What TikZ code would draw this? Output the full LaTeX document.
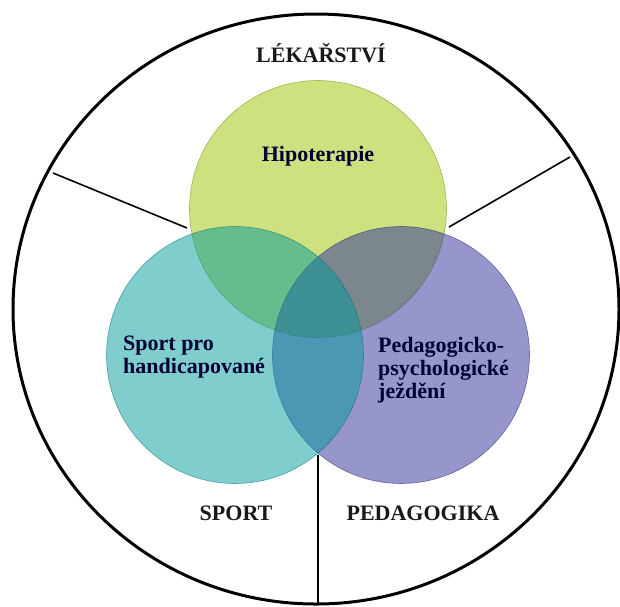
\documentclass[tikz,border=0pt]{standalone}
\usepackage{fontspec}
\setmainfont{Liberation Serif}
\usetikzlibrary{positioning,shapes.geometric}
\definecolor{hipo}{RGB}{155,195,0}
\definecolor{peda}{RGB}{45,45,155}
\definecolor{sport}{RGB}{0,155,155}
\begin{document}
\begin{tikzpicture}[
  x=1pt,y=-1pt,
  field/.style={circle,minimum size=257pt,inner sep=0pt,fill opacity=0.5,draw opacity=0.55,line width=0.6pt},
  area/.style={font=\fontsize{22}{24}\selectfont\bfseries,inner sep=0pt,text=black!90},
  inlabel/.style={font=\fontsize{22}{23}\selectfont\bfseries,inner sep=0pt,align=left,text=black!80!blue},
  divider/.style={line width=1.6pt}
]
\useasboundingbox (0,0) rectangle (620,606);
\node[ellipse,draw,line width=3pt,minimum width=606pt,minimum height=590pt,inner sep=0pt] (outer) at (316,309) {};
\node[field,fill=hipo,draw=hipo!70!black] (hipo) at (318,209) {};
\node[field,fill=peda,draw=peda!70!black] (peda) at (401,355) {};
\node[field,fill=sport,draw=sport!70!black] (sport) at (235,355) {};
\coordinate (lo) at (53,173);
\coordinate (li) at (187,228);
\coordinate (ro) at (570,157);
\coordinate (ri) at (449,227);
\coordinate (bo) at (318,604);
\coordinate (bi) at (318,455);
\draw[divider] (li) -- (lo);
\draw[divider] (ri) -- (ro);
\draw[divider] (bi) -- (bo);
\node[area,anchor=base] (med) at (321,62) {LÉKAŘSTVÍ};
\node[area,anchor=base] (spt) at (236,520) {SPORT};
\node[area,anchor=base] (ped) at (423,520) {PEDAGOGIKA};
\node[inlabel,anchor=base] (hipot) at (318,161) {Hipoterapie};
\node[inlabel,anchor=base west] (spth) at (123,373) {Sport pro\\handicapované};
\node[inlabel,anchor=base west] (pedj) at (378,398) {Pedagogicko-\\psychologické\\ježdění};
\end{tikzpicture}
\end{document}
